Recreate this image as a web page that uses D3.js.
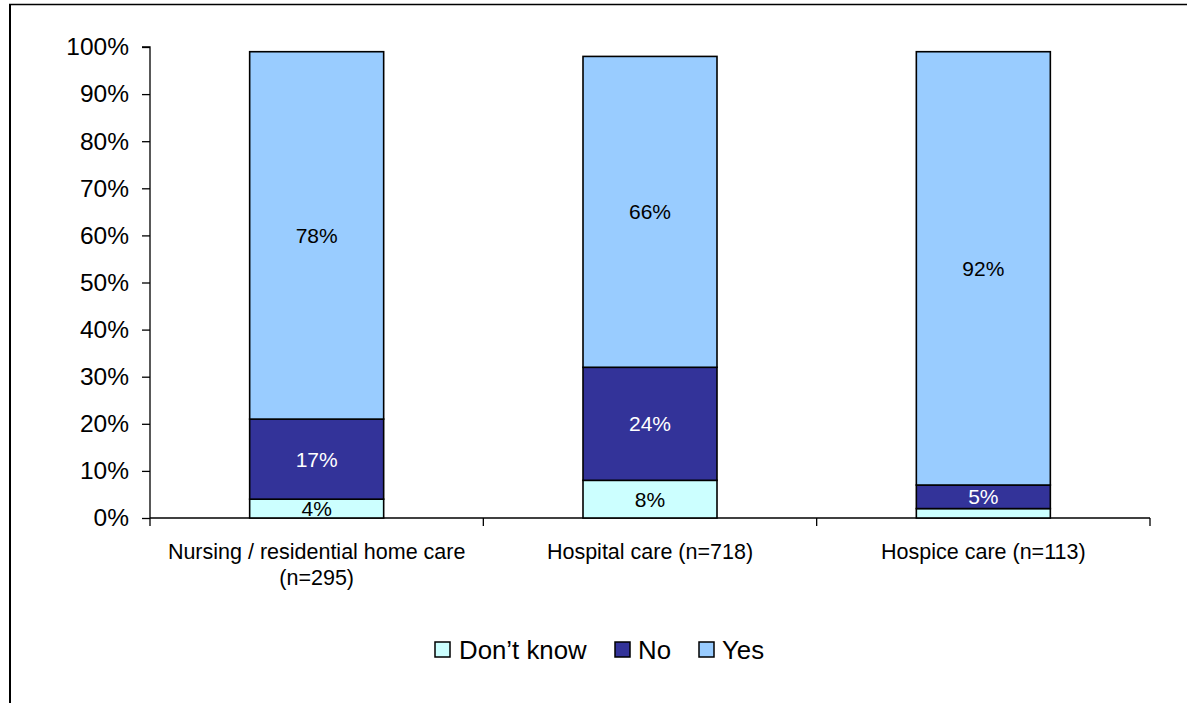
<!DOCTYPE html>
<html>
<head>
<meta charset="utf-8">
<script src="https://cdn.jsdelivr.net/npm/d3@7"></script>
<style>
  html, body { margin: 0; padding: 0; background: #fff; }
  svg { display: block; font-family: "Liberation Sans", Arial, sans-serif; }
</style>
</head>
<body>
<svg id="chart" width="1187" height="703"></svg>
<script>
// Care settings and their respondent counts
const categories = ["Nursing / residential home care", "Hospital care", "Hospice care"];
const categoryLines = [["Nursing / residential home care", "(n=295)"], ["Hospital care (n=718)"], ["Hospice care (n=113)"]];

// Answer shares (%) stacked bottom to top
const seriesNames = ["Don\u2019t know", "No", "Yes"];
const dontKnow = [4, 8, 2];
const no = [17, 24, 5];
const yes = [78, 66, 92];

const yTicks = [0, 10, 20, 30, 40, 50, 60, 70, 80, 90, 100];

const colors = { "Don\u2019t know": "#CCFFFF", "No": "#333399", "Yes": "#99CCFF" };
const labelColors = { "Don\u2019t know": "#000", "No": "#fff", "Yes": "#000" };

const svg = d3.select("#chart");

// Outer frame (top and left edges visible)
svg.append("line").attr("x1", 9).attr("x2", 1187).attr("y1", 4.5).attr("y2", 4.5)
  .attr("stroke", "#000").attr("stroke-width", 1.6);
svg.append("line").attr("x1", 10).attr("x2", 10).attr("y1", 4).attr("y2", 703)
  .attr("stroke", "#000").attr("stroke-width", 2);

const plot = { left: 150, right: 1150, top: 47, bottom: 518 };

const x = d3.scaleBand().domain(categories).range([plot.left, plot.right])
  .paddingInner(0.598).paddingOuter(0.299);
const y = d3.scaleLinear().domain([0, 100]).range([plot.bottom, plot.top]);

const rows = categories.map((c, i) => ({ category: c, "Don\u2019t know": dontKnow[i], "No": no[i], "Yes": yes[i] }));
const stacked = d3.stack().keys(seriesNames)(rows);

// Y axis
const yAxis = d3.axisLeft(y).tickValues(yTicks).tickFormat(d => d + "%").tickSize(8).tickPadding(13);
const gy = svg.append("g").attr("transform", `translate(${plot.left},0)`).call(yAxis);
gy.select(".domain").attr("stroke", "#000").attr("stroke-width", 1.3).attr("d", `M-8,${plot.top}H0V${plot.bottom}`);
gy.selectAll(".tick line").attr("stroke", "#000").attr("stroke-width", 1.3);
gy.selectAll(".tick text").attr("font-size", 24.5).attr("fill", "#000")
  .attr("font-family", "'Liberation Sans', Arial, sans-serif");

// X axis line with boundary ticks between categories
svg.append("line").attr("x1", plot.left).attr("x2", plot.right)
  .attr("y1", plot.bottom).attr("y2", plot.bottom).attr("stroke", "#000").attr("stroke-width", 1.3);
svg.selectAll(".xtick").data(d3.range(categories.length + 1)).join("line")
  .attr("class", "xtick")
  .attr("x1", i => plot.left + i * (plot.right - plot.left) / categories.length)
  .attr("x2", i => plot.left + i * (plot.right - plot.left) / categories.length)
  .attr("y1", plot.bottom).attr("y2", plot.bottom + 8)
  .attr("stroke", "#000").attr("stroke-width", 1.3);

// Stacked bars
const layers = svg.selectAll(".layer").data(stacked).join("g")
  .attr("class", "layer").attr("fill", d => colors[d.key]);
layers.selectAll("rect").data(d => d).join("rect")
  .attr("x", d => x(d.data.category))
  .attr("width", x.bandwidth())
  .attr("y", d => y(d[1]))
  .attr("height", d => y(d[0]) - y(d[1]))
  .attr("stroke", "#000").attr("stroke-width", 1.6);

// Segment value labels (segments too thin to hold text stay unlabeled)
stacked.forEach(layer => {
  svg.append("g").selectAll("text").data(layer.filter(d => d[1] - d[0] >= 3)).join("text")
    .attr("x", d => x(d.data.category) + x.bandwidth() / 2)
    .attr("y", d => (y(d[0]) + y(d[1])) / 2)
    .attr("dy", "0.36em")
    .attr("text-anchor", "middle")
    .attr("font-size", 21)
    .attr("fill", labelColors[layer.key])
    .text(d => (d[1] - d[0]) + "%");
});

// Category labels
categories.forEach((c, i) => {
  const cx = x(c) + x.bandwidth() / 2;
  const lines = categoryLines[i];
  const t = svg.append("text").attr("text-anchor", "middle").attr("font-size", 21.5).attr("fill", "#000");
  lines.forEach((ln, j) => {
    t.append("tspan").attr("x", cx).attr("y", 559 + j * 26).text(ln);
  });
});

// Legend
const legendItems = [
  { key: "Don\u2019t know", box: 435, text: 459 },
  { key: "No", box: 615, text: 638 },
  { key: "Yes", box: 699, text: 722 }
];
const legend = svg.append("g");
legend.selectAll("rect").data(legendItems).join("rect")
  .attr("x", d => d.box).attr("y", 642).attr("width", 15).attr("height", 15)
  .attr("fill", d => colors[d.key]).attr("stroke", "#000").attr("stroke-width", 1.5);
legend.selectAll("text").data(legendItems).join("text")
  .attr("x", d => d.text).attr("y", 659)
  .attr("font-size", 25.8).attr("fill", "#000")
  .text(d => d.key);
</script>
</body>
</html>
